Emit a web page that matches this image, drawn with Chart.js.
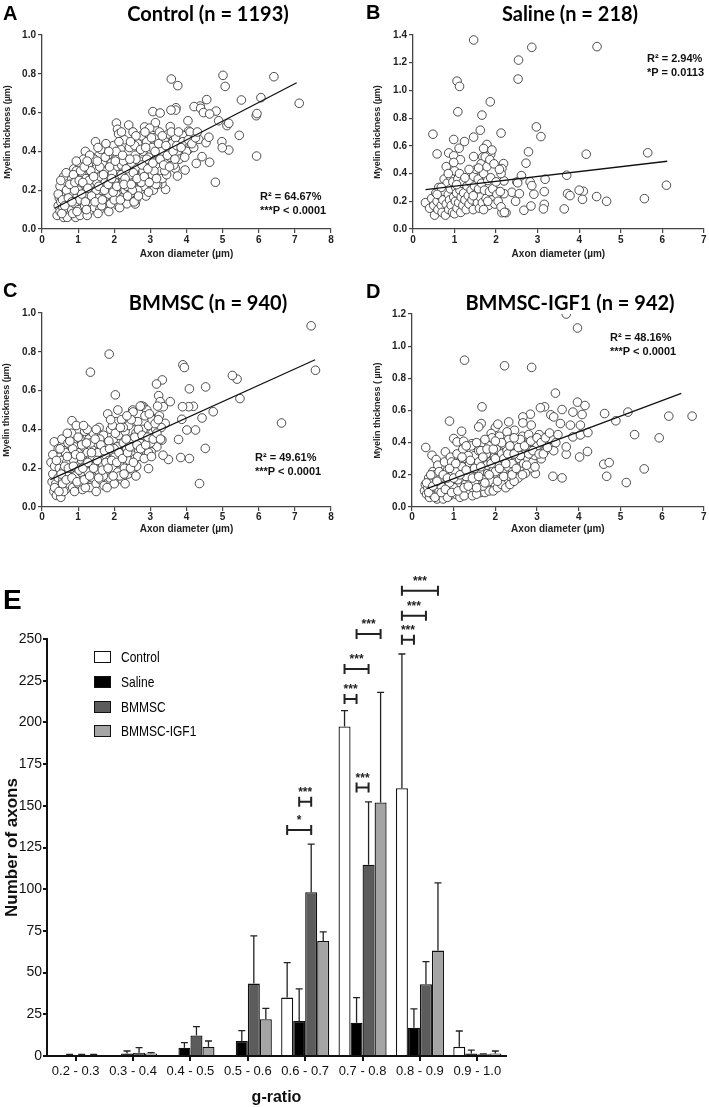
<!DOCTYPE html>
<html>
<head>
<meta charset="utf-8">
<script src="https://cdn.jsdelivr.net/npm/chart.js@4"></script>
<style>
  body { margin: 0; background: #fff; }
  #wrap { position: relative; width: 709px; height: 1107px; overflow: hidden; }
  canvas { position: absolute; }
  .letter { position: absolute; font: bold 20px 'Liberation Sans', Arial, sans-serif; line-height: 20px; color: #000; }
  .ttl { position: absolute; font: bold 20px Lato, 'Liberation Sans', sans-serif; line-height: 22px; color: #000; transform: translate(-50%, -50%); white-space: nowrap; }
  .stat { position: absolute; font: bold 11px 'Liberation Sans', Arial, sans-serif; line-height: 13.5px; color: #111; white-space: nowrap; }
  .leg { position: absolute; left: 94px; width: 17px; height: 12px; box-sizing: border-box; border: 1.5px solid #111; }
  .legtxt { position: absolute; left: 121px; font: 15px 'Liberation Sans', Arial, sans-serif; line-height: 18px; color: #000;
            transform: scaleX(0.8); transform-origin: left center; white-space: nowrap; }
</style>
</head>
<body>
<div id="wrap">
  <canvas id="cA" width="350" height="270" style="left:0;top:0"></canvas>
  <canvas id="cB" width="354" height="270" style="left:355px;top:0"></canvas>
  <canvas id="cC" width="350" height="270" style="left:0;top:270px"></canvas>
  <canvas id="cD" width="354" height="270" style="left:355px;top:270px"></canvas>
  <canvas id="cE" width="709" height="547" style="left:0;top:560px"></canvas>

  <div class="letter" style="left:3px;top:3px">A</div>
  <div class="letter" style="left:366px;top:2px">B</div>
  <div class="letter" style="left:3px;top:280px">C</div>
  <div class="letter" style="left:366px;top:281px">D</div>
  <div class="letter" style="left:3px;top:586px;font-size:28px;line-height:28px">E</div>

  <div class="ttl" style="left:208px;top:13px">Control (n = 1193)</div>
  <div class="ttl" style="left:570px;top:13px">Saline (n = 218)</div>
  <div class="ttl" style="left:208px;top:302px">BMMSC (n = 940)</div>
  <div class="ttl" style="left:570px;top:302px">BMMSC-IGF1 (n = 942)</div>

  <div class="stat" style="left:260px;top:190px">R² = 64.67%<br>***P &lt; 0.0001</div>
  <div class="stat" style="left:647px;top:52px">R² = 2.94%<br>*P = 0.0113</div>
  <div class="stat" style="left:255px;top:451px">R² = 49.61%<br>***P &lt; 0.0001</div>
  <div class="stat" style="left:610px;top:331px">R² = 48.16%<br>***P &lt; 0.0001</div>

  <div class="leg" style="top:651px;background:#fff"></div>
  <div class="leg" style="top:676px;background:#000"></div>
  <div class="leg" style="top:701px;background:#5c5c5c"></div>
  <div class="leg" style="top:725px;background:#a5a5a5"></div>
  <div class="legtxt" style="top:648px">Control</div>
  <div class="legtxt" style="top:673px">Saline</div>
  <div class="legtxt" style="top:698px">BMMSC</div>
  <div class="legtxt" style="top:722px">BMMSC-IGF1</div>
</div>
<script>
// ---- scatter data (axon diameter, myelin thickness) ----
const ctrlPts = [
  [3.58,0.773],[3.76,0.739],[5.01,0.792],[5.07,0.735],[6.42,0.785],[7.12,0.648],[5.52,0.665],[6.06,0.677],
  [5.93,0.584],[5.95,0.595],[5.46,0.483],[5.94,0.376],[4.8,0.241],[5.17,0.407],[4.98,0.45],[4.99,0.419],
  [5.12,0.533],[5.17,0.545],[4.89,0.558],[4.82,0.608],[4.56,0.667],[4.38,0.634],[4.21,0.631],[4.39,0.622],
  [4.47,0.6],[4.64,0.593],[4.34,0.462],[4.43,0.373],[4.27,0.338],[4.64,0.344],[4.54,0.445],[4.62,0.473],
  [4.06,0.505],[4.04,0.558],[3.89,0.483],[3.71,0.625],[3.7,0.613],[3.57,0.613],[3.07,0.605],[3.27,0.598],
  [2.4,0.536],[2.06,0.546],[2.09,0.514],[2.12,0.49],[3.11,0.524],[2.84,0.526],[3.14,0.548],[3.69,0.313],
  [3.96,0.304],[3.75,0.273],[3.42,0.204],[3.32,0.234],[2.58,0.129],[3.55,0.528],[3.64,0.459],[3.87,0.424],
  [4.0,0.433],[4.04,0.407],[3.82,0.381],[3.57,0.404],[3.41,0.373],[3.23,0.326],[3.18,0.278],
  [0.42,0.07],[0.45,0.12],[0.48,0.16],[0.5,0.09],[0.52,0.14],[0.55,0.2],[0.58,0.11],[0.6,0.06],[0.62,0.17],
  [0.65,0.24],[0.66,0.09],[0.7,0.13],[0.72,0.2],[0.75,0.07],[0.78,0.27],[0.8,0.16],[0.82,0.1],[0.85,0.22],
  [0.88,0.31],[0.9,0.13],[0.93,0.06],[0.95,0.18],[0.98,0.26],[1.0,0.1],[1.02,0.34],[1.05,0.15],[1.08,0.22],
  [1.1,0.29],[1.12,0.08],[1.15,0.19],[1.18,0.12],[1.2,0.4],[1.22,0.26],[1.25,0.17],[1.28,0.33],[1.3,0.09],
  [1.33,0.22],[1.35,0.14],[1.38,0.37],[1.4,0.28],[1.42,0.19],[1.45,0.11],[1.48,0.45],[1.5,0.31],[1.52,0.24],
  [1.55,0.16],[1.58,0.38],[1.6,0.1],[1.62,0.27],[1.65,0.2],[1.68,0.34],[1.7,0.42],[1.72,0.13],[1.75,0.24],
  [1.78,0.3],[1.8,0.17],[1.82,0.38],[1.85,0.09],[1.88,0.27],[1.9,0.21],[1.92,0.34],[1.95,0.14],[1.98,0.43],
  [2.0,0.25],[2.02,0.31],[2.05,0.18],[2.08,0.37],[2.1,0.12],[2.12,0.28],[2.15,0.22],[2.18,0.41],[2.2,0.33],
  [2.22,0.16],[2.25,0.26],[2.28,0.46],[2.3,0.2],[2.32,0.36],[2.35,0.13],[2.38,0.3],[2.4,0.24],[2.42,0.42],
  [2.45,0.18],[2.48,0.34],[2.5,0.27],[2.52,0.5],[2.55,0.21],[2.58,0.38],[2.6,0.15],[2.62,0.31],[2.65,0.44],
  [2.68,0.25],[2.7,0.35],[2.72,0.19],[2.75,0.48],[2.78,0.29],[2.8,0.4],[2.82,0.22],[2.85,0.33],[2.88,0.17],
  [2.9,0.45],[2.92,0.27],[2.95,0.37],[2.98,0.52],[3.0,0.24],[3.02,0.31],[3.05,0.42],[3.08,0.2],[3.1,0.35],
  [3.12,0.47],[3.15,0.28],[3.18,0.39],[3.2,0.23],[3.22,0.33],[3.25,0.5],[3.28,0.43],[3.3,0.3],[3.33,0.26],
  [3.35,0.38],[3.38,0.46],[3.4,0.35],[3.45,0.28],[3.48,0.41],[3.5,0.49],[3.55,0.37],[3.6,0.44],[3.65,0.33],
  [3.7,0.47],[3.75,0.4],[3.8,0.36],[3.9,0.45],[4.0,0.4],[4.1,0.5],[4.2,0.42],
  [0.5,0.22],[0.6,0.27],[0.7,0.06],[0.75,0.18],[0.85,0.08],[0.95,0.3],[1.05,0.07],[1.15,0.36],[1.25,0.07],
  [1.35,0.3],[1.45,0.36],[1.55,0.08],[1.65,0.12],[1.75,0.37],[1.85,0.18],[1.95,0.29],[2.05,0.4],[2.15,0.11],
  [2.25,0.35],[2.35,0.22],[2.45,0.28],[2.55,0.14],[2.65,0.2],[2.75,0.24],[2.85,0.5],[2.95,0.19],[3.05,0.28],
  [3.15,0.23],[3.25,0.36],[1.0,0.2],[1.1,0.18],[1.3,0.25],[1.6,0.32],[1.9,0.13],[2.2,0.28],[2.5,0.2],
  [2.8,0.3],[3.3,0.4],[0.55,0.08],[0.68,0.2],[0.8,0.23],[0.9,0.2],[1.2,0.14],[1.5,0.2],[1.7,0.28],[2.0,0.15],
  [2.3,0.26],[2.6,0.36],[2.9,0.36],[3.1,0.3],[3.4,0.3],
  [0.45,0.18],[0.52,0.25],[0.57,0.15],[0.63,0.12],[0.67,0.29],[0.73,0.16],[0.77,0.23],[0.83,0.14],[0.87,0.28],
  [0.91,0.24],[0.97,0.09],[1.03,0.25],[1.07,0.3],[1.13,0.24],[1.17,0.32],[1.23,0.1],[1.27,0.21],[1.32,0.38],
  [1.37,0.17],[1.43,0.27],[1.47,0.14],[1.53,0.35],[1.57,0.22],[1.63,0.41],[1.67,0.15],[1.73,0.2],[1.77,0.44],
  [1.83,0.23],[1.87,0.32],[1.93,0.26],[1.97,0.19],[2.03,0.35],[2.07,0.22],[2.13,0.45],[2.17,0.15],[2.23,0.38],
  [2.27,0.23],[2.33,0.31],[2.37,0.17],[2.43,0.36],[2.47,0.23],[2.53,0.29],[2.57,0.43],[2.63,0.26],[2.67,0.17],
  [2.73,0.41],[2.77,0.33],[2.83,0.27],[2.87,0.42],[2.93,0.31],[2.97,0.24],[3.03,0.47],[3.07,0.34],[3.13,0.4],
  [3.17,0.26],[3.23,0.44],[3.27,0.36],[3.33,0.48],[3.37,0.33],[3.43,0.43],[3.47,0.38],[3.53,0.32],[3.58,0.5],
  [3.63,0.4],[3.68,0.36],[3.73,0.43],[3.78,0.5],[3.85,0.42],[3.95,0.37],[4.05,0.46],[4.15,0.44],[4.25,0.47],
  [4.3,0.5],[2.2,0.5],[2.6,0.48],[2.45,0.45],[1.85,0.4],[1.55,0.42],[1.25,0.35],[0.95,0.35]
];
const ctrlFit = [[0.35,0.107],[7.05,0.754]];

const salinePts = [
  [1.46,1.364],[2.86,1.311],[4.43,1.316],[2.54,1.219],[2.53,1.082],[1.06,1.067],[1.12,1.029],[1.86,0.918],
  [1.08,0.846],[1.66,0.822],[2.97,0.737],[3.08,0.667],[0.48,0.684],[2.12,0.692],[1.62,0.713],[0.98,0.646],
  [1.46,0.663],[1.24,0.631],[1.11,0.583],[1.78,0.61],[1.7,0.581],[1.87,0.54],[0.58,0.542],[0.86,0.549],
  [0.98,0.528],[1.46,0.523],[1.68,0.52],[2.78,0.557],[4.17,0.54],[5.65,0.55],[6.1,0.316],[5.57,0.219],
  [4.66,0.2],[4.42,0.234],[4.1,0.272],[4.0,0.28],[4.08,0.214],[3.7,0.388],[3.72,0.255],[3.78,0.241],
  [3.64,0.145],[3.18,0.359],[3.16,0.27],[3.16,0.178],[3.14,0.145],[2.91,0.251],[2.82,0.34],[2.86,0.313],
  [2.72,0.475],[2.61,0.385],[2.5,0.34],[2.52,0.333],[2.38,0.265],[2.47,0.2],[2.56,0.255],[2.67,0.135],
  [2.84,0.166],[2.19,0.347],[2.18,0.472],[2.14,0.436],[2.12,0.4],[2.19,0.255],[2.24,0.118],[2.14,0.118],
  [2.05,0.267],[2.02,0.217],
  [0.3,0.19],[0.4,0.15],[0.45,0.22],[0.5,0.17],[0.52,0.1],[0.55,0.26],[0.58,0.2],[0.6,0.14],[0.62,0.3],
  [0.65,0.24],[0.68,0.17],[0.7,0.12],[0.72,0.21],[0.75,0.36],[0.76,0.27],[0.78,0.1],[0.8,0.45],[0.8,0.18],
  [0.82,0.33],[0.85,0.25],[0.86,0.14],[0.88,0.21],[0.9,0.38],[0.9,0.29],[0.92,0.17],[0.95,0.12],[0.96,0.34],
  [0.98,0.23],[1.0,0.42],[1.0,0.11],[1.02,0.2],[1.03,0.3],[1.05,0.26],[1.06,0.15],[1.08,0.36],[1.1,0.19],
  [1.12,0.4],[1.13,0.28],[1.15,0.12],[1.16,0.23],[1.18,0.33],[1.2,0.17],[1.22,0.26],[1.25,0.21],[1.28,0.14],
  [1.3,0.31],[1.33,0.24],[1.35,0.18],[1.37,0.34],[1.4,0.28],[1.42,0.21],[1.45,0.14],[1.46,0.38],[1.48,0.31],
  [1.5,0.25],[1.52,0.43],[1.55,0.19],[1.57,0.36],[1.58,0.29],[1.6,0.15],[1.62,0.23],[1.64,0.47],[1.65,0.33],
  [1.67,0.19],[1.7,0.4],[1.72,0.28],[1.74,0.52],[1.76,0.22],[1.78,0.45],[1.8,0.35],[1.82,0.17],[1.84,0.27],
  [1.85,0.5],[1.87,0.37],[1.9,0.21],[1.92,0.29],[1.95,0.47],[1.97,0.18],[2.0,0.34],[2.02,0.25],[2.05,0.2],
  [2.08,0.43],[2.1,0.27],[2.12,0.16],[1.14,0.5],[1.58,0.44],[0.98,0.48],[1.25,0.37],[0.68,0.3],[0.58,0.25],
  [1.45,0.24],[1.8,0.2],[2.2,0.12],[1.05,0.32],[1.35,0.43],[1.7,0.14],[0.85,0.4],[1.9,0.57]
];
const salineFit = [[0.3,0.284],[6.12,0.489]];

const bmmscPts = [
  [7.45,0.934],[7.57,0.705],[6.63,0.433],[5.48,0.559],[5.4,0.659],[5.27,0.678],[4.74,0.491],[4.53,0.619],
  [4.08,0.609],[4.19,0.519],[4.06,0.517],[3.89,0.517],[3.9,0.733],[3.94,0.719],[4.25,0.397],[4.01,0.397],
  [4.43,0.459],[4.52,0.302],[4.36,0.121],[4.08,0.25],[3.84,0.255],[3.78,0.348],[3.87,0.452],[3.5,0.245],
  [3.35,0.267],[3.33,0.655],[3.17,0.634],[3.23,0.574],[3.27,0.543],[3.36,0.517],[3.55,0.543],[3.41,0.431],
  [3.32,0.345],[3.18,0.31],[2.95,0.198],[3.02,0.284],[2.81,0.517],[2.9,0.5],[3.07,0.457],[1.34,0.695],
  [1.86,0.788],[2.03,0.578],[0.83,0.445],[0.34,0.336],[2.1,0.5],[2.51,0.5],[2.58,0.44],[2.76,0.521],
  [0.25,0.23],[0.28,0.13],[0.3,0.17],[0.33,0.08],[0.35,0.21],[0.38,0.12],[0.4,0.06],[0.42,0.27],[0.45,0.15],
  [0.48,0.2],[0.5,0.1],[0.52,0.05],[0.55,0.35],[0.55,0.24],[0.58,0.14],[0.6,0.19],[0.62,0.29],[0.65,0.09],
  [0.68,0.23],[0.7,0.16],[0.72,0.33],[0.75,0.12],[0.78,0.27],[0.8,0.2],[0.82,0.38],[0.85,0.1],[0.88,0.24],
  [0.9,0.31],[0.92,0.16],[0.95,0.42],[0.98,0.21],[1.0,0.12],[1.02,0.28],[1.05,0.35],[1.08,0.18],[1.1,0.24],
  [1.12,0.09],[1.15,0.31],[1.18,0.39],[1.2,0.14],[1.22,0.22],[1.25,0.28],[1.28,0.18],[1.3,0.35],[1.33,0.1],
  [1.35,0.25],[1.38,0.31],[1.4,0.15],[1.42,0.38],[1.45,0.21],[1.48,0.27],[1.5,0.12],[1.52,0.33],[1.55,0.19],
  [1.58,0.41],[1.6,0.25],[1.62,0.14],[1.65,0.3],[1.68,0.22],[1.7,0.37],[1.72,0.11],[1.75,0.27],[1.78,0.18],
  [1.8,0.33],[1.82,0.48],[1.85,0.24],[1.88,0.15],[1.9,0.4],[1.92,0.29],[1.95,0.2],[1.98,0.35],[2.0,0.12],
  [2.02,0.26],[2.05,0.44],[2.08,0.31],[2.1,0.18],[2.12,0.37],[2.15,0.23],[2.18,0.28],[2.2,0.45],[2.22,0.14],
  [2.25,0.33],[2.28,0.2],[2.3,0.39],[2.33,0.26],[2.35,0.3],[2.38,0.17],[2.4,0.42],[2.42,0.24],[2.45,0.35],
  [2.48,0.28],[2.5,0.19],[2.52,0.49],[2.55,0.31],[2.58,0.25],[2.6,0.38],[2.62,0.21],[2.65,0.44],[2.68,0.29],
  [2.7,0.34],[2.72,0.52],[2.75,0.26],[2.8,0.4],[2.82,0.3],[2.85,0.47],[2.88,0.36],[2.9,0.28],[2.95,0.42],
  [3.0,0.33],[3.05,0.38],[3.1,0.45],[3.15,0.4],[3.2,0.52],[3.25,0.47],[3.3,0.41],[0.45,0.3],[0.65,0.28],
  [0.85,0.3],[1.0,0.36],[1.1,0.32],[1.25,0.4],[1.4,0.26],[1.55,0.28],[1.7,0.16],[1.85,0.34],[2.0,0.3],
  [2.15,0.16],[2.3,0.12],[2.45,0.2],[2.6,0.16],[0.6,0.08],[0.9,0.08],[1.2,0.1],[1.5,0.08],[1.8,0.1],
  [1.6,0.35],[1.95,0.42],[2.25,0.41],[0.7,0.26],[1.05,0.2],[1.35,0.33],[2.65,0.26],[2.95,0.28],[3.05,0.45],
  [0.3,0.27],[0.35,0.1],[0.4,0.24],[0.47,0.08],[0.5,0.3],[0.53,0.17],[0.57,0.12],[0.63,0.21],[0.67,0.14],
  [0.73,0.2],[0.77,0.34],[0.83,0.15],[0.87,0.21],[0.93,0.27],[0.97,0.13],[1.03,0.19],[1.07,0.26],[1.13,0.2],
  [1.17,0.14],[1.23,0.33],[1.27,0.23],[1.32,0.16],[1.37,0.28],[1.43,0.2],[1.47,0.35],[1.53,0.24],[1.57,0.15],
  [1.63,0.32],[1.67,0.19],[1.73,0.29],[1.77,0.23],[1.83,0.2],[1.87,0.3],[1.93,0.24],[1.97,0.16],[2.03,0.38],
  [2.07,0.23],[2.13,0.28],[2.17,0.41],[2.23,0.25],[2.27,0.17],[2.33,0.35],[2.37,0.28],[2.43,0.31],[2.47,0.45],
  [2.53,0.23],[2.57,0.36],[2.63,0.32],[2.67,0.4],[2.73,0.3],[2.77,0.37],[2.83,0.25],[2.87,0.32],[2.93,0.36],
  [2.97,0.48],[3.03,0.26],[3.08,0.35],[3.13,0.43],[3.18,0.38],[3.22,0.45],[3.28,0.35],[1.5,0.4],[1.9,0.45],
  [2.35,0.47],[1.15,0.42],[0.7,0.38]
];
const bmmscFit = [[0.23,0.141],[7.56,0.759]];

const igf1Pts = [
  [3.7,1.2],[3.97,1.113],[1.26,0.913],[2.22,0.878],[2.87,0.868],[3.44,0.708],[3.97,0.652],[4.15,0.631],
  [4.08,0.575],[3.86,0.59],[3.6,0.606],[3.18,0.623],[3.08,0.617],[3.33,0.573],[3.4,0.56],[3.56,0.519],
  [3.8,0.509],[3.86,0.436],[4.04,0.509],[4.04,0.448],[4.22,0.463],[4.21,0.345],[4.02,0.311],[3.7,0.328],
  [3.7,0.374],[3.38,0.191],[3.6,0.181],[2.96,0.208],[2.86,0.243],[4.6,0.266],[4.73,0.276],[4.67,0.191],
  [4.62,0.581],[4.89,0.536],[5.18,0.59],[5.34,0.45],[5.57,0.237],[5.14,0.152],[5.93,0.43],[6.16,0.565],
  [6.72,0.565],[2.84,0.577],[2.66,0.56],[2.86,0.509],[2.66,0.523],[2.32,0.529],[2.46,0.477],[2.28,0.467],
  [2.0,0.494],[2.06,0.515],[1.9,0.457],[1.66,0.519],[1.6,0.498],[1.68,0.623],[0.9,0.534],[0.33,0.37],
  [0.48,0.322],[0.58,0.295],[0.8,0.343],[1.0,0.426],[1.08,0.405],[1.19,0.471],[1.24,0.409],[1.44,0.394],
  [0.3,0.1],[0.32,0.14],[0.35,0.08],[0.38,0.12],[0.4,0.18],[0.42,0.06],[0.45,0.1],[0.48,0.15],[0.5,0.22],
  [0.52,0.07],[0.55,0.12],[0.58,0.18],[0.6,0.05],[0.62,0.26],[0.65,0.1],[0.68,0.15],[0.7,0.21],[0.72,0.07],
  [0.75,0.12],[0.78,0.28],[0.8,0.17],[0.82,0.09],[0.85,0.23],[0.88,0.14],[0.9,0.07],[0.92,0.31],[0.95,0.19],
  [0.98,0.11],[1.0,0.25],[1.02,0.16],[1.05,0.08],[1.08,0.33],[1.1,0.21],[1.12,0.13],[1.15,0.28],[1.18,0.1],
  [1.2,0.18],[1.22,0.36],[1.25,0.24],[1.28,0.14],[1.3,0.3],[1.32,0.09],[1.35,0.2],[1.38,0.27],[1.4,0.16],
  [1.42,0.38],[1.45,0.23],[1.48,0.11],[1.5,0.32],[1.52,0.19],[1.55,0.26],[1.58,0.14],[1.6,0.35],[1.62,0.22],
  [1.65,0.09],[1.68,0.29],[1.7,0.4],[1.72,0.17],[1.75,0.25],[1.78,0.33],[1.8,0.12],[1.82,0.21],[1.85,0.38],
  [1.88,0.28],[1.9,0.16],[1.92,0.43],[1.95,0.24],[1.98,0.31],[2.0,0.13],[2.02,0.36],[2.05,0.2],[2.08,0.27],
  [2.1,0.44],[2.12,0.17],[2.15,0.33],[2.18,0.23],[2.2,0.39],[2.22,0.29],[2.25,0.15],[2.28,0.35],[2.3,0.25],
  [2.32,0.42],[2.35,0.19],[2.38,0.31],[2.4,0.37],[2.42,0.22],[2.45,0.28],[2.5,0.34],[2.52,0.4],[2.55,0.18],
  [2.58,0.3],[2.6,0.25],[2.62,0.36],[2.65,0.44],[2.68,0.27],[2.7,0.33],[2.72,0.21],[2.75,0.39],[2.78,0.3],
  [2.8,0.45],[2.85,0.35],[2.9,0.28],[2.92,0.41],[2.95,0.32],[3.0,0.38],[3.05,0.45],[3.1,0.3],[3.15,0.4],
  [3.2,0.35],[3.25,0.44],[3.3,0.38],[3.35,0.42],[3.4,0.35],[3.5,0.45],[0.55,0.2],[0.65,0.17],[0.75,0.05],
  [0.85,0.06],[0.95,0.28],[1.05,0.22],[1.15,0.06],[1.25,0.07],[1.35,0.32],[1.45,0.07],[1.55,0.08],[1.65,0.35],
  [1.75,0.09],[1.85,0.1],[1.95,0.1],[2.05,0.12],[2.15,0.14],[2.25,0.12],[2.35,0.14],[2.45,0.16],[1.0,0.12],
  [1.2,0.25],[1.4,0.22],[1.6,0.28],[1.8,0.26],[2.0,0.22],[2.2,0.3],[2.4,0.27],[2.6,0.32],[0.7,0.13],
  [0.9,0.15],[1.1,0.17],[1.3,0.19],[1.5,0.15],[1.7,0.13],
  [0.35,0.15],[0.4,0.09],[0.45,0.2],[0.5,0.13],[0.55,0.06],[0.6,0.16],[0.65,0.22],[0.7,0.09],[0.75,0.2],
  [0.8,0.11],[0.85,0.18],[0.9,0.24],[0.95,0.09],[1.0,0.18],[1.05,0.27],[1.1,0.1],[1.15,0.2],[1.2,0.31],
  [1.25,0.12],[1.3,0.23],[1.35,0.13],[1.4,0.29],[1.45,0.18],[1.5,0.24],[1.55,0.12],[1.6,0.19],[1.65,0.25],
  [1.7,0.31],[1.75,0.15],[1.8,0.36],[1.85,0.2],[1.9,0.27],[1.95,0.36],[2.0,0.3],[2.05,0.16],[2.1,0.24],
  [2.15,0.4],[2.2,0.19],[2.25,0.27],[2.3,0.33],[2.35,0.38],[2.4,0.2],[2.45,0.33],[2.5,0.24],[2.55,0.37],
  [2.6,0.42],[2.65,0.2],[2.7,0.38],[2.75,0.26],[2.8,0.33],[2.85,0.41],[2.9,0.35],[2.95,0.25],[3.0,0.43],
  [3.05,0.33],[3.1,0.4],[3.15,0.33],[3.2,0.43],[3.25,0.37],[3.3,0.46],[3.45,0.4],[1.3,0.38],[1.55,0.4],
  [1.75,0.42],[2.0,0.41],[2.45,0.43]
];
const igf1Fit = [[0.36,0.114],[6.46,0.706]];

// ---- g-ratio histogram (mean and SD) ----
const gLabels = ['0.2 - 0.3','0.3 - 0.4','0.4 - 0.5','0.5 - 0.6','0.6 - 0.7','0.7 - 0.8','0.8 - 0.9','0.9 - 1.0'];
const ctrlMean = [0, 0, 0, 0, 35, 197.5, 160.5, 5.5];
const ctrlSD   = [0, 0, 0, 0, 21, 9.5, 80.5, 9.5];
const salMean  = [0.5, 1.5, 5, 9, 21, 20, 17, 1.5];
const salSD    = [0.5, 1.5, 3, 6.2, 19.2, 15, 11.2, 2];
const bmMean   = [0.5, 2, 12.3, 43.4, 98.2, 114.7, 43, 1];
const bmSD     = [0.5, 3, 5.3, 28.6, 28.8, 37.6, 13.6, 0.3];
const igfMean  = [0.5, 1.5, 5.6, 22, 69, 152, 63.2, 1.5];
const igfSD    = [0.5, 0.5, 3.4, 6.6, 5.4, 66, 40.6, 1.5];

// significance brackets: category, from/to dataset, height, label
const sigCat  = [4, 4, 5, 5, 5, 5, 6, 6, 6];
const sigFrom = [0, 1, 1, 1, 0, 1, 0, 0, 0];
const sigTo   = [2, 2, 2, 0, 2, 3, 1, 2, 3];
const sigY    = [135.5, 152.5, 161, 214, 232, 253, 249.5, 264, 279];
const sigText = ['*', '***', '***', '***', '***', '***', '***', '***', '***'];

const sans = "'Liberation Sans', Arial, sans-serif";
const toXY = arr => arr.map(p => ({x: p[0], y: p[1]}));

function scatterPanel(id, pts, fit, c) {
  return new Chart(document.getElementById(id), {
    type: 'scatter',
    data: {
      datasets: [
        { data: toXY(fit), showLine: true, borderColor: '#111', borderWidth: 1.3, pointRadius: 0, clip: false },
        { data: toXY(pts), pointRadius: 4.3, pointBorderWidth: 0.9, borderColor: '#3a3a3a',
          backgroundColor: '#fff', clip: c.clip || false }
      ]
    },
    options: {
      responsive: false, animation: false, events: [],
      layout: { padding: { left: c.pl, top: c.pt, right: c.pr, bottom: c.pb } },
      plugins: { legend: { display: false }, tooltip: { enabled: false } },
      scales: {
        x: {
          type: 'linear', min: 0, max: c.xmax,
          ticks: { stepSize: 1, autoSkip: false, maxRotation: 0, padding: c.xtp, color: '#222',
                   font: { family: sans, size: 10, weight: 'bold' } },
          grid: { drawOnChartArea: false, tickLength: 4, color: '#444', lineWidth: 1.2 },
          border: { color: '#444', width: 1.3 },
          title: { display: true, text: 'Axon diameter (µm)', padding: 0, color: '#222',
                   font: { family: sans, size: 10, weight: 'bold' } },
          afterFit(s) { s.height = c.xh; }
        },
        y: {
          min: 0, max: c.ymax,
          ticks: { stepSize: 0.2, autoSkip: false, padding: 2, color: '#222',
                   callback: v => v.toFixed(1),
                   font: { family: sans, size: 10, weight: 'bold' } },
          grid: { drawOnChartArea: false, tickLength: 4, color: '#444', lineWidth: 1.2 },
          border: { color: '#444', width: 1.3 },
          title: { display: true, text: c.ytitle, padding: 0, color: '#222',
                   font: { family: sans, size: 9, weight: 'bold' } },
          afterFit(s) { s.width = c.yw; }
        }
      }
    }
  });
}

scatterPanel('cA', ctrlPts, ctrlFit, { xmax: 8, ymax: 1.0, pl: 2.6, yw: 39.4, pt: 35, pr: 19, pb: 10, xh: 31, xtp: 1,
  ytitle: 'Myelin thickness (µm)' });
scatterPanel('cB', salinePts, salineFit, { xmax: 7, ymax: 1.4, pl: 17.6, yw: 40.4, pt: 35, pr: 4, pb: 10, xh: 31, xtp: 1,
  ytitle: 'Myelin thickness (µm)' });
scatterPanel('cC', bmmscPts, bmmscFit, { xmax: 8, ymax: 1.0, pl: 1.6, yw: 40.4, pt: 43, pr: 19, pb: 5, xh: 28, xtp: 0,
  ytitle: 'Myelin thickness (µm)' });
scatterPanel('cD', igf1Pts, igf1Fit, { xmax: 7, ymax: 1.2, pl: 17.6, yw: 39.4, pt: 44, pr: 5, pb: 5, xh: 28, xtp: 0,
  ytitle: 'Myelin thickness ( µm)', clip: { left: false, top: 0, right: false, bottom: false } });

// upward error bars (mean + SD)
const errorBars = {
  id: 'errorBars',
  afterDatasetsDraw(chart) {
    const ctx = chart.ctx, y = chart.scales.y;
    ctx.save();
    ctx.strokeStyle = '#222';
    ctx.lineWidth = 1.3;
    chart.data.datasets.forEach((ds, i) => {
      chart.getDatasetMeta(i).data.forEach((bar, j) => {
        const sd = ds.sd[j];
        if (!sd) return;
        const top = y.getPixelForValue(ds.data[j] + sd);
        ctx.beginPath();
        ctx.moveTo(bar.x, bar.y);
        ctx.lineTo(bar.x, top);
        ctx.moveTo(bar.x - 3.5, top);
        ctx.lineTo(bar.x + 3.5, top);
        ctx.stroke();
      });
    });
    ctx.restore();
  }
};

// significance brackets |---| with stars
const brackets = {
  id: 'brackets',
  afterDatasetsDraw(chart) {
    const ctx = chart.ctx, y = chart.scales.y;
    ctx.save();
    ctx.strokeStyle = '#222';
    ctx.fillStyle = '#222';
    ctx.lineWidth = 2;
    ctx.font = 'bold 12px ' + sans;
    ctx.textAlign = 'center';
    ctx.textBaseline = 'middle';
    sigCat.forEach((cat, k) => {
      const x1 = chart.getDatasetMeta(sigFrom[k]).data[cat].x;
      const x2 = chart.getDatasetMeta(sigTo[k]).data[cat].x;
      const yy = y.getPixelForValue(sigY[k]);
      ctx.beginPath();
      ctx.moveTo(x1, yy); ctx.lineTo(x2, yy);
      ctx.moveTo(x1, yy - 5); ctx.lineTo(x1, yy + 5);
      ctx.moveTo(x2, yy - 5); ctx.lineTo(x2, yy + 5);
      ctx.stroke();
      ctx.fillText(sigText[k], (x1 + x2) / 2, yy - 9);
    });
    ctx.restore();
  }
};

new Chart(document.getElementById('cE'), {
  type: 'bar',
  data: {
    labels: gLabels,
    datasets: [
      { label: 'Control', data: ctrlMean, sd: ctrlSD, backgroundColor: '#ffffff', borderColor: '#111', borderWidth: 1.3 },
      { label: 'Saline', data: salMean, sd: salSD, backgroundColor: '#000000', borderColor: '#111', borderWidth: 1.3 },
      { label: 'BMMSC', data: bmMean, sd: bmSD, backgroundColor: '#5c5c5c', borderColor: '#111', borderWidth: 1.3 },
      { label: 'BMMSC-IGF1', data: igfMean, sd: igfSD, backgroundColor: '#a5a5a5', borderColor: '#111', borderWidth: 1.3 }
    ]
  },
  options: {
    responsive: false, animation: false, events: [],
    layout: { padding: { left: 1.9, top: 79, right: 203, bottom: 0 } },
    datasets: { bar: { categoryPercentage: 0.838, barPercentage: 1 } },
    plugins: { legend: { display: false }, tooltip: { enabled: false } },
    scales: {
      x: {
        ticks: { autoSkip: false, maxRotation: 0, padding: 3, color: '#111', font: { family: sans, size: 13 } },
        grid: { offset: false, drawOnChartArea: false, tickLength: 5, color: '#111', lineWidth: 2 },
        border: { color: '#111', width: 2 },
        title: { display: true, text: 'g-ratio', padding: 0, color: '#111',
                 font: { family: sans, size: 16, weight: 'bold' } },
        afterFit(s) { s.height = 51; }
      },
      y: {
        min: 0, max: 250,
        ticks: { stepSize: 25, autoSkip: false, padding: 1, color: '#111', font: { family: sans, size: 14 } },
        grid: { drawOnChartArea: false, tickLength: 4, color: '#111', lineWidth: 2 },
        border: { color: '#111', width: 2 },
        title: { display: true, text: 'Number of axons', padding: 0, color: '#111',
                 font: { family: sans, size: 17, weight: 'bold' } },
        afterFit(s) { s.width = 45.1; }
      }
    }
  },
  plugins: [errorBars, brackets]
});
</script>
</body>
</html>
